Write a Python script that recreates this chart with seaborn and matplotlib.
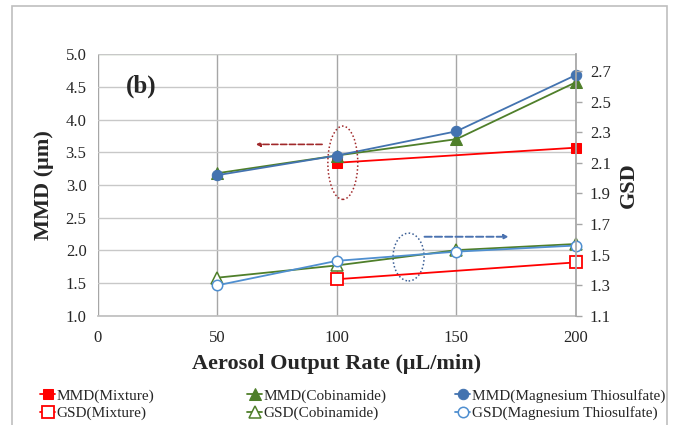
import numpy as np
import pandas as pd
import seaborn as sns
import matplotlib.pyplot as plt
from matplotlib.patches import Ellipse, Rectangle

sns.set_theme(style="white")
plt.rcParams['font.family'] = ['Liberation Serif', 'DejaVu Serif']

# dati
rate_mix = [100, 200]
rate_all = [50, 100, 150, 200]
mmd_mix = [3.34, 3.57]
mmd_cob = [3.18, 3.45, 3.70, 4.57]
mmd_mag = [3.15, 3.45, 3.82, 4.68]
gsd_mix = [1.34, 1.45]
gsd_cob = [1.35, 1.43, 1.53, 1.57]
gsd_mag = [1.30, 1.46, 1.52, 1.56]
x_ticks = [0, 50, 100, 150, 200]

red = "#FF0000"
green = "#4F7F2A"
blue = "#4373B0"
blue_l = "#4F8FD0"

fig = plt.figure(figsize=(6.74, 4.25), dpi=100)
ax = fig.add_axes([0.1449, 0.2565, 0.7097, 0.6164])
ax2 = ax.twinx()

# griglia
ax.set_xlim(0, 200)
ax.set_ylim(1.0, 5.0)
ax.set_yticks(np.arange(1.0, 5.01, 0.5))
ax.set_xticks(x_ticks)
ax.grid(True, axis="y", color="#C8C8C8", linewidth=1.0)
ax.grid(True, axis="x", color="#A6A6A6", linewidth=1.0)
ax.set_axisbelow(True)
ax.axhline(5.0, color="#C6E0B4", linewidth=1.0, zorder=0)

# MMD (asse sinistro)
sns.lineplot(x=rate_mix, y=mmd_mix, ax=ax, color=red, marker="s", markersize=7,
             markeredgecolor=red, linewidth=1.3, label="MMD(Mixture)", legend=False,
             clip_on=False)
sns.lineplot(x=rate_all, y=mmd_cob, ax=ax, color=green, marker="^", markersize=8,
             markeredgecolor=green, linewidth=1.3, label="MMD(Cobinamide)", legend=False,
             clip_on=False)
sns.lineplot(x=rate_all, y=mmd_mag, ax=ax, color=blue, marker="o", markersize=7.5,
             markeredgecolor=blue, linewidth=1.3, label="MMD(Magnesium Thiosulfate)",
             legend=False, clip_on=False)

# GSD (asse destro)
ax2.set_ylim(1.1, 2.81)
ax2.set_yticks(np.arange(1.1, 2.71, 0.2))
sns.lineplot(x=rate_mix, y=gsd_mix, ax=ax2, color=red, marker="s", markersize=8,
             markerfacecolor="white", markeredgecolor=red, markeredgewidth=1.3,
             linewidth=1.3, label="GSD(Mixture)", legend=False, clip_on=False)
sns.lineplot(x=rate_all, y=gsd_cob, ax=ax2, color=green, marker="^", markersize=8,
             markerfacecolor="white", markeredgecolor=green, markeredgewidth=1.1,
             linewidth=1.3, label="GSD(Cobinamide)", legend=False, clip_on=False)
sns.lineplot(x=rate_all, y=gsd_mag, ax=ax2, color=blue_l, marker="o", markersize=7.5,
             markerfacecolor="white", markeredgecolor=blue_l, markeredgewidth=1.1,
             linewidth=1.3, label="GSD(Magnesium Thiosulfate)", legend=False, clip_on=False)

for a in (ax, ax2):
    for s in a.spines.values():
        s.set_visible(False)
ax2.spines["right"].set_visible(True)
ax2.spines["right"].set_color("#A6A6A6")
ax.spines["bottom"].set_visible(True)
ax.spines["bottom"].set_color("#BFBFBF")

ax.tick_params(axis="both", labelsize=12, length=0, pad=8)
ax.tick_params(axis="x", pad=10)
ax2.tick_params(axis="y", labelsize=12, length=4, width=1, color="#A6A6A6",
                direction="out", pad=6)
ax.set_yticklabels([f"{v:.1f}" for v in ax.get_yticks()])
ax2.set_yticklabels([f"{v:.1f}" for v in ax2.get_yticks()])

ax.set_xlabel("Aerosol Output Rate (μL/min)", fontsize=16, fontweight="bold", labelpad=6)
ax.set_ylabel("MMD (μm)", fontsize=16, fontweight="bold", labelpad=8)
ax2.set_ylabel("GSD", fontsize=16, fontweight="bold", labelpad=6)

ax.text(12, 4.5, "(b)", fontsize=18, fontweight="bold", ha="left", va="center")

# ellissi e frecce
ax.add_patch(Ellipse((102.5, 3.34), 12.5, 1.12, fill=False, edgecolor="#A0282A",
                     linestyle=(0, (1, 1.5)), linewidth=1.1, zorder=5))
ax.annotate("", xy=(65, 3.62), xytext=(95, 3.62),
            arrowprops=dict(arrowstyle="-|>", color="#A0282A", linestyle="--",
                            linewidth=1.2, mutation_scale=6))
ax.add_patch(Ellipse((130, 1.90), 13, 0.73, fill=False, edgecolor="#3A5E95",
                     linestyle=(0, (1, 1.5)), linewidth=1.1, zorder=5))
ax.annotate("", xy=(173, 2.21), xytext=(135.5, 2.21),
            arrowprops=dict(arrowstyle="-|>", color="#4A72B0", linestyle="--",
                            linewidth=1.4, mutation_scale=6))

# legenda: tre colonne separate
h1, l1 = ax.get_legend_handles_labels()
h2, l2 = ax2.get_legend_handles_labels()
col_x = [40 / 674, 247 / 674, 455 / 674]
for i, x0 in enumerate(col_x):
    leg = fig.legend([h1[i], h2[i]], [l1[i], l2[i]], loc="upper left",
                     bbox_to_anchor=(x0, 1 - 389 / 425), frameon=False, fontsize=11,
                     handlelength=1.0, handletextpad=0.1, labelspacing=0.22,
                     borderpad=0, borderaxespad=0)

# cornice
fig.patches.append(Rectangle((0.018, -0.01), 0.972, 0.996, transform=fig.transFigure,
                             fill=False, edgecolor="#BFBFBF", linewidth=1.2))

plt.savefig("out.png", dpi=100)
plt.close()
